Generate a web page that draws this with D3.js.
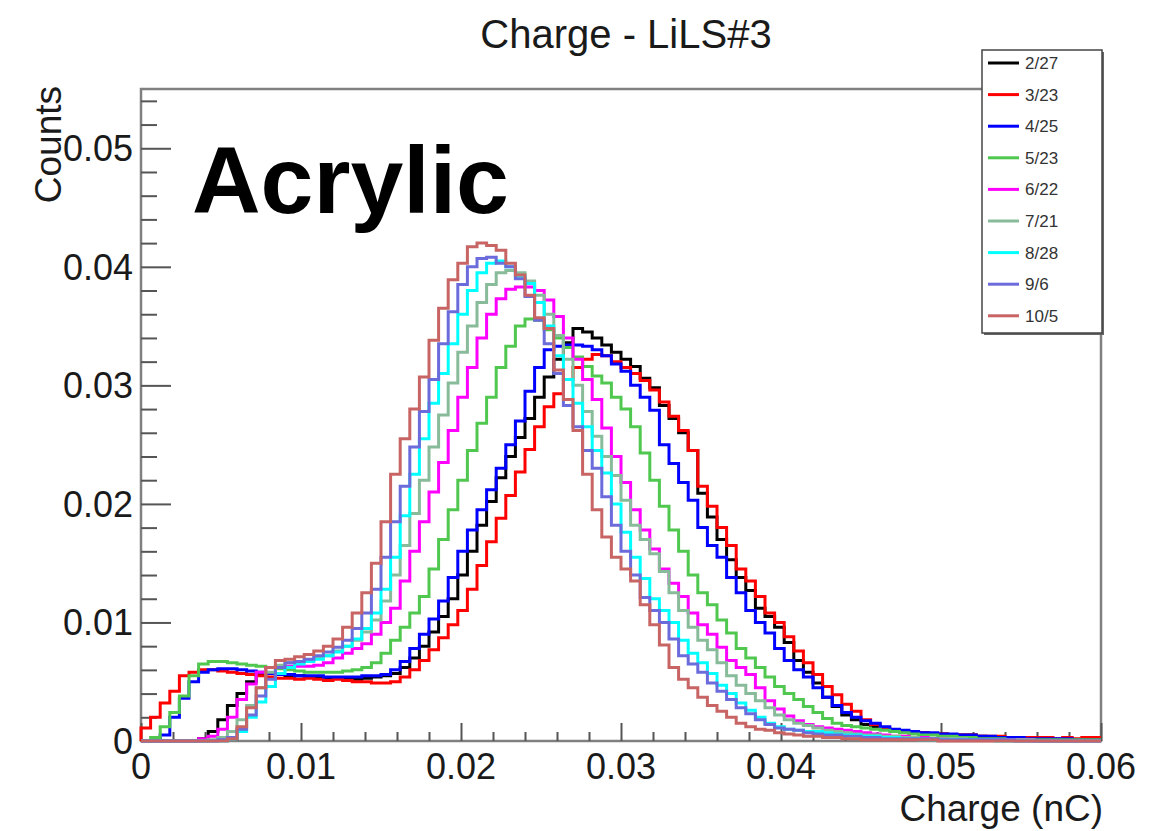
<!DOCTYPE html>
<html><head><meta charset="utf-8">
<script src="https://cdn.jsdelivr.net/npm/d3@7"></script>
<style>
body{margin:0;background:#fff;}
text{font-family:"Liberation Sans",Arial,Helvetica,sans-serif;}
</style>
</head><body>
<svg id="c" width="1162" height="831"></svg>
<script>
// ---- data (bin contents in units of 1e-4 counts, bin width 0.0006 nC, 100 bins from 0 to 0.06) ----
const UNIT = 1e-4;
const binWidth = 0.0006;
const labels = ["2/27","3/23","4/25","5/23","6/22","7/21","8/28","9/6","10/5"];
const xTicks = [0,0.01,0.02,0.03,0.04,0.05,0.06];
const yTicks = [0,0.01,0.02,0.03,0.04,0.05];

const s0227 = [0,0,0,0,0,0,2,8,18,30,40,50,56,57,56,55,55,54,54,53,53,52,52,53,54,55,57,62,70,80,92,105,120,140,160,182,202,222,240,256,272,290,307,322,336,348,345,340,334,328,322,316,306,298,283,272,260,245,209,189,170,153,138,127,112,105,96,83,68,58,49,37,29,22,18,14,12,10,9,8,7,7,6,6,5,5,5,4,3,3,2,2,1,1,1,1,1,1,1,1];
const s0323 = [11,20,32,42,55,58,60,60,59,58,57,56,55,54,53,53,52,53,52,51,52,51,50,50,49,49,50,54,60,68,77,87,98,110,128,148,168,188,207,227,246,265,282,293,305,315,322,326,325,320,315,310,304,296,286,274,262,245,215,198,180,165,145,135,122,108,100,88,76,66,56,46,39,31,25,18,14,11,9,8,7,7,6,6,5,5,5,4,4,4,3,3,3,3,3,2,3,2,3,3];
const s0425 = [0,0,5,20,36,50,58,60,61,61,60,59,58,57,56,56,55,55,55,54,54,54,54,55,55,56,60,67,78,90,103,118,138,160,178,195,212,230,250,270,295,315,330,333,334,334,333,330,325,318,312,300,290,279,250,234,218,203,180,165,155,138,125,110,100,91,78,68,60,54,45,37,30,24,20,17,15,12,10,9,8,7,7,6,6,5,5,4,4,3,3,3,2,2,2,2,2,1,1,1];
const s0523 = [0,3,12,24,38,55,65,67,67,66,65,64,63,62,61,60,59,58,58,58,58,59,60,62,66,74,85,96,108,122,145,170,195,220,245,268,290,315,333,350,356,355,347,340,332,324,316,308,302,290,280,265,243,220,198,178,160,140,125,115,102,91,78,70,62,54,46,40,35,29,24,19,15,13,12,11,10,9,8,7,6,5,5,4,4,3,3,2,2,2,1,1,1,1,1,1,1,1,1,1];
const s0622 = [0,0,0,0,0,0,2,4,10,20,35,48,58,62,63,63,63,63,64,66,70,74,78,82,90,100,112,135,160,185,210,235,262,290,315,340,360,373,381,383,383,380,372,358,340,322,305,288,264,240,218,195,178,162,145,133,122,108,98,90,79,68,62,56,45,34,27,21,17,14,12,11,10,9,8,7,6,5,4,4,3,3,2,2,1,1,1,1,1,1,1,1,1,0,0,0,0,0,0,0];
const s0721 = [0,0,0,0,0,0,0,1,3,8,18,30,45,58,64,66,67,68,70,72,76,80,85,92,102,118,140,165,192,220,248,275,302,328,350,370,385,395,397,395,388,376,360,342,322,300,278,257,240,224,203,182,170,158,143,125,110,96,85,77,66,55,47,40,34,28,22,18,15,13,11,9,8,7,6,5,5,4,4,3,3,2,2,2,2,2,1,1,1,1,1,1,1,0,0,0,0,0,0,0];
const s0828 = [0,0,0,0,0,0,0,0,0,2,8,20,33,46,57,62,65,67,69,72,75,80,86,95,108,128,155,190,225,255,285,310,335,360,380,395,403,405,400,392,386,370,350,325,305,285,265,245,226,200,176,155,137,120,110,100,85,74,66,57,47,40,32,26,20,15,12,10,9,8,8,7,6,5,5,4,4,3,3,2,2,1,1,1,1,1,1,1,1,0,0,0,0,0,0,0,0,0,0,0];
const s0906 = [0,0,0,0,0,0,0,0,1,3,10,22,38,52,62,66,67,69,72,75,79,85,95,108,128,155,185,215,248,278,305,335,362,385,400,407,408,403,400,390,375,355,335,310,283,265,245,230,206,182,160,140,121,110,100,86,72,65,58,49,42,35,28,23,18,14,11,10,9,7,6,5,5,4,4,3,3,2,2,2,2,2,2,1,1,1,1,1,1,1,1,0,0,0,0,0,0,0,0,0];
const s1005 = [0,0,0,0,0,0,0,0,0,2,12,28,45,62,68,69,71,73,76,80,86,96,108,125,150,185,225,255,280,307,338,365,389,403,417,420,418,414,403,393,376,357,348,313,288,262,225,195,172,155,145,135,115,98,81,62,52,45,37,30,25,20,15,12,10,9,7,6,5,4,4,3,3,2,2,1,1,1,1,1,1,1,1,0,0,0,0,0,0,0,0,0,0,0,0,0,0,0,0,0];

const seriesData = [s0227,s0323,s0425,s0523,s0622,s0721,s0828,s0906,s1005];
const colors = ["#000000","#ff0000","#0000ff","#50c850","#ff00ff","#88bb99","#00ffff","#6b6bdc","#c86464"];

// ---- layout ----
const svg = d3.select("#c");
const x = d3.scaleLinear().domain([0,0.06]).range([141,1101]);
const y = d3.scaleLinear().domain([0,0.055]).range([741,89]);
const fmt = d => d === 0 ? "0" : d3.format(".2f")(d);

// frame
svg.append("rect").attr("x",141).attr("y",89).attr("width",960).attr("height",652)
  .attr("fill","none").attr("stroke","#808080").attr("stroke-width",2.5);

// minor ticks
const minorX = d3.range(0,0.0601,0.002).filter(v=>Math.abs(v/0.01-Math.round(v/0.01))>1e-6);
const minorY = d3.range(0,0.0551,0.002).filter(v=>Math.abs(v/0.01-Math.round(v/0.01))>1e-6);

const gx = svg.append("g").attr("transform","translate(0,741)");
gx.call(d3.axisTop(x).tickValues(minorX).tickSize(9).tickFormat(""));
const gx2 = svg.append("g").attr("transform","translate(0,741)");
gx2.call(d3.axisTop(x).tickValues(xTicks).tickSize(18).tickFormat(""));
const gy = svg.append("g").attr("transform","translate(141,0)");
gy.call(d3.axisRight(y).tickValues(minorY).tickSize(16).tickFormat(""));
const gy2 = svg.append("g").attr("transform","translate(141,0)");
gy2.call(d3.axisRight(y).tickValues(yTicks).tickSize(30).tickFormat(""));
svg.selectAll(".domain").remove();
svg.selectAll(".tick line").attr("stroke","#555").attr("stroke-width",2);

// tick labels
svg.append("g").selectAll("text").data(xTicks).join("text")
  .attr("x",d=>x(d)).attr("y",779).attr("text-anchor","middle")
  .attr("font-size",36).attr("fill","#1a1a1a").text(fmt);
svg.append("g").selectAll("text").data(yTicks).join("text")
  .attr("x",133).attr("y",d=>y(d)+13).attr("text-anchor","end")
  .attr("font-size",36).attr("fill","#1a1a1a").text(fmt);

// axis titles
svg.append("text").attr("x",1103).attr("y",821).attr("text-anchor","end")
  .attr("font-size",37).attr("fill","#1a1a1a").text("Charge (nC)");
svg.append("text").attr("transform","translate(61,86) rotate(-90)").attr("text-anchor","end")
  .attr("font-size",37).attr("fill","#1a1a1a").text("Counts");

// title
svg.append("text").attr("x",626).attr("y",48).attr("text-anchor","middle")
  .attr("font-size",40).attr("fill","#1a1a1a").text("Charge - LiLS#3");

// histograms
const line = d3.line().x(d=>x(d[0])).y(d=>y(d[1]));
seriesData.forEach((vals,k)=>{
  const pts=[[0,0]];
  vals.forEach((v,i)=>{ const val=v*UNIT; pts.push([i*binWidth,val],[(i+1)*binWidth,val]); });
  svg.append("path").attr("d",line(pts)).attr("fill","none")
    .attr("stroke",colors[k]).attr("stroke-width",3).attr("stroke-linejoin","miter");
});

// big label
svg.append("text").attr("x",192).attr("y",213).attr("font-size",95).attr("font-weight","bold")
  .attr("fill","#000").text("Acrylic");

// legend
const lg = svg.append("g");
lg.append("rect").attr("x",984).attr("y",52).attr("width",120).attr("height",283).attr("fill","#666");
lg.append("rect").attr("x",982).attr("y",50).attr("width",120).attr("height",283)
  .attr("fill","#fff").attr("stroke","#444").attr("stroke-width",1.5);
labels.forEach((lab,k)=>{
  const yy = 63 + k*31.6;
  lg.append("line").attr("x1",988).attr("x2",1019).attr("y1",yy).attr("y2",yy)
    .attr("stroke",colors[k]).attr("stroke-width",3);
  lg.append("text").attr("x",1025).attr("y",yy+6).attr("font-size",17).attr("fill","#333").text(lab);
});
</script>
</body></html>
